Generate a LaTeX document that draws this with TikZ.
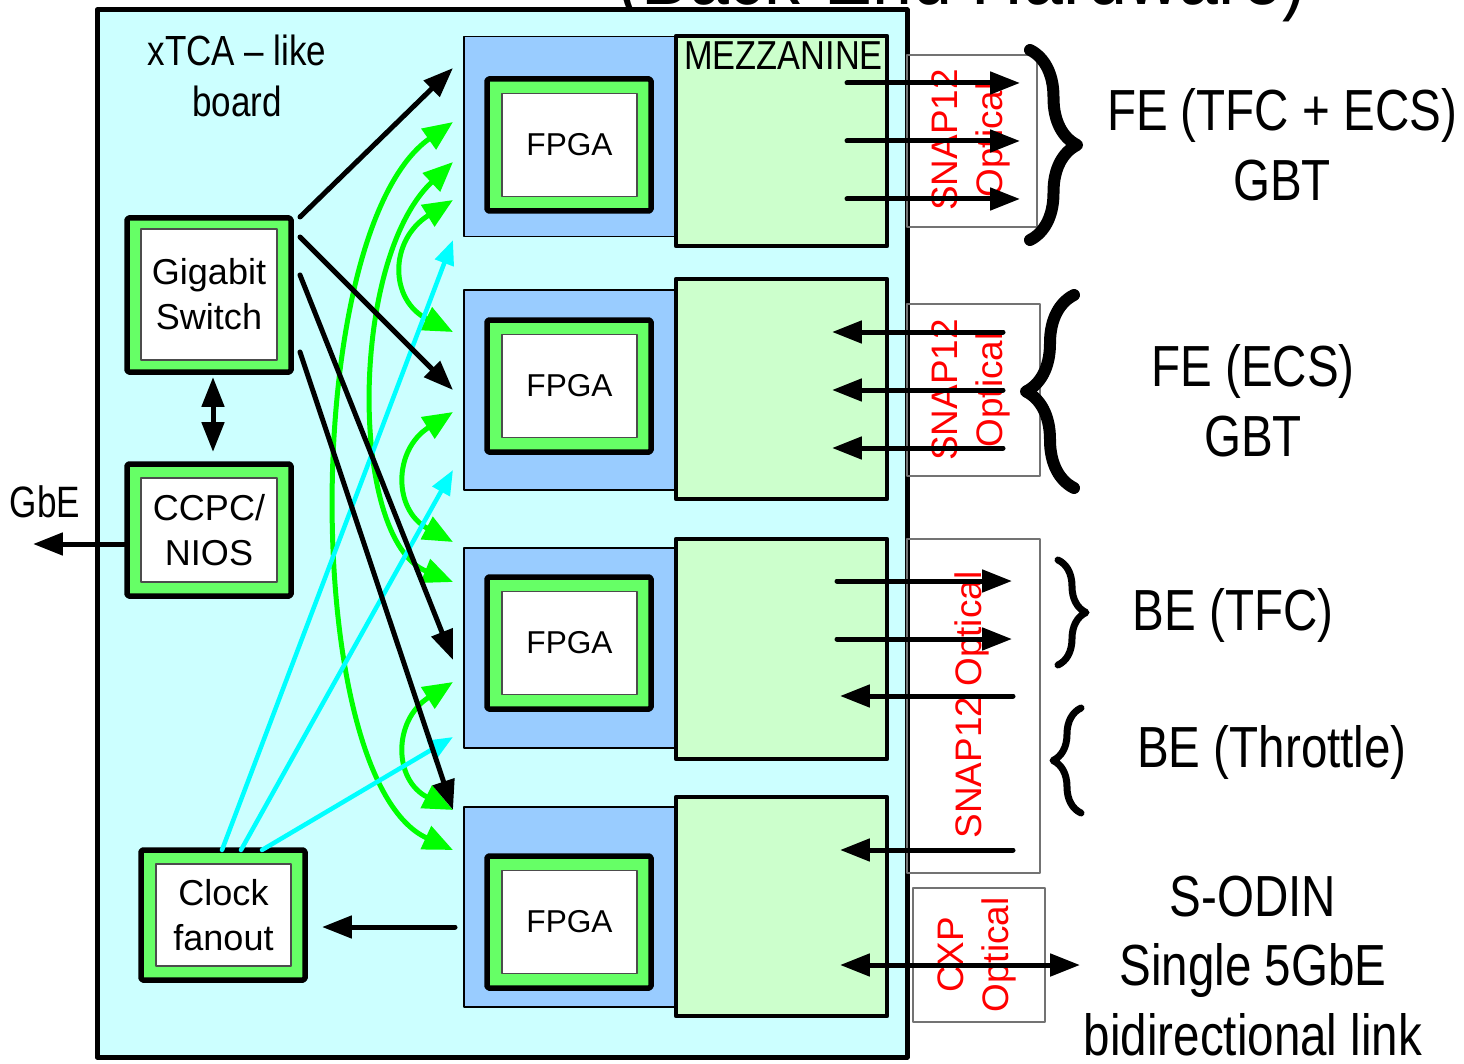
\documentclass[tikz,border=0pt]{standalone}
\usepackage{fontspec}
\setmainfont{Liberation Sans}
\usetikzlibrary{arrows.meta,decorations.pathreplacing}
\definecolor{boardcyan}{HTML}{CCFFFF}
\definecolor{cardblue}{HTML}{99CCFF}
\definecolor{mezzgreen}{HTML}{CCFFCC}
\definecolor{chipgreen}{HTML}{66FF66}
\definecolor{linkgreen}{HTML}{00FF00}
\definecolor{clkcyan}{HTML}{00FFFF}
\def\pxu{0.02cm}
\begin{document}
\begin{tikzpicture}[x=0.02cm, y=-0.02cm, line cap=round, line join=round,
    sz/.style 2 args={minimum width=#1*\pxu, minimum height=#2*\pxu, inner sep=0pt},
    board/.style={draw, fill=boardcyan, line width=5*\pxu},
    card/.style={draw, fill=cardblue, line width=1.5*\pxu},
    mezz/.style={draw, fill=mezzgreen, line width=4.5*\pxu},
    chip/.style={draw, fill=chipgreen, line width=5.5*\pxu, rounded corners=1pt},
    chipin/.style={draw=black!70, fill=white, line width=1.2*\pxu, align=center, font=\fontsize{20.5}{25.5}\selectfont},
    optbox/.style={draw=black!55, line width=1.2*\pxu},
    redlbl/.style={text=red, rotate=90, align=center, font=\fontsize{21}{26}\selectfont},
    rlbl/.style={xscale=0.82, align=center, font=\fontsize{33}{39.7}\selectfont},
    sig/.style={line width=5*\pxu, -{Triangle[length=17pt,width=12.5pt]}},
    sigboth/.style={line width=5*\pxu, {Triangle[length=17pt,width=12.5pt]}-{Triangle[length=17pt,width=12.5pt]}},
    lnk/.style={color=linkgreen, line width=5*\pxu, {Triangle[length=17pt,width=14pt]}-{Triangle[length=17pt,width=14pt]}},
    clkln/.style={color=clkcyan, line width=4.5*\pxu, -{Triangle[length=14pt,width=11pt]}},
    brc/.style={decorate, decoration={brace, amplitude=#1*\pxu}}]
\useasboundingbox (0,0) rectangle (1464,1064);

% slide title, cut at the top
\node[anchor=base, xscale=0.85, font=\fontsize{48}{50}\selectfont] (ttl) at (962,5) {(Back-End Hardware)};

% board
\node[board, sz={810}{1047}] (brd) at (502,533.5) {};
\node[xscale=0.83, align=center, font=\fontsize{24}{29.5}\selectfont] (brdlbl) at (237,76) {xTCA – like\\board};

% carriers and mezzanines
\foreach \i/\yy in {1/136.5, 2/390, 3/648, 4/907}
  \node[card, sz={212}{200}] (car\i) at (570,\yy) {};
\node[mezz, sz={211}{210}] (mz1) at (781.5,141) {};
\node[mezz, sz={211}{220}] (mz2) at (781.5,389) {};
\node[mezz, sz={211}{220}] (mz3) at (781.5,649) {};
\node[mezz, sz={211}{219}] (mz4) at (781.5,906.5) {};
\node[anchor=west, xscale=0.85, font=\fontsize{23}{26}\selectfont] (mzlbl) at (679,56) {MEZZANINE};

% FPGAs
\foreach \i/\yy in {1/145, 2/386, 3/643, 4/922} {
  \node[chip, sz={164}{132}] (fp\i) at (569,\yy) {};
  \node[chipin, sz={135}{103}, font=\fontsize{18}{20}\selectfont] (fpt\i) at (569.5,\yy) {FPGA};
}

% switch, controller, clock
\node[chip, sz={164}{154}] (gsw) at (209,295) {};
\node[chipin, sz={136}{131}] (gswt) at (209,294.5) {Gigabit\\Switch};
\node[chip, sz={164}{132}] (ccpc) at (209,530) {};
\node[chipin, sz={136}{104}] (ccpct) at (209,530) {CCPC/\\NIOS};
\node[chip, sz={164}{130}] (clk) at (223,915) {};
\node[chipin, sz={135}{102}] (clkt) at (223.5,915) {Clock\\fanout};

% optical connectors
\node[optbox, sz={130}{172}] (op1) at (972,141) {};
\node[optbox, sz={133}{172}] (op2) at (973.5,390) {};
\node[optbox, sz={133}{334}] (op3) at (973.5,706) {};
\node[optbox, sz={132}{134}] (op4) at (979,955) {};
\node[redlbl] (op1l) at (971,140) {SNAP12\\Optical};
\node[redlbl] (op2l) at (971,390) {SNAP12\\Optical};
\node[redlbl] (op3l) at (972,705) {SNAP12 Optical};
\node[redlbl] (op4l) at (977,955) {CXP\\Optical};

% green links between FPGAs
\coordinate (ga1) at (453,122); \coordinate (gb1) at (453,850);
\coordinate (ga2) at (453,162); \coordinate (gb2) at (453,582);
\coordinate (ga3) at (453,200); \coordinate (gb3) at (453,332);
\coordinate (ga4) at (453,412); \coordinate (gb4) at (453,542);
\coordinate (ga5) at (453,682); \coordinate (gb5) at (453,810);
\draw[lnk] (ga1) .. controls (300,230) and (300,780) .. (gb1);
\draw[lnk] (ga2) .. controls (349,260) and (349,540) .. (gb2);
\draw[lnk] (ga3) .. controls (389,240) and (389,300) .. (gb3);
\draw[lnk] (ga4) .. controls (393,450) and (393,510) .. (gb4);
\draw[lnk] (ga5) .. controls (393,720) and (393,780) .. (gb5);

% clock lines
\coordinate (ck1) at (222,850); \coordinate (ct1) at (453,240);
\coordinate (ck2) at (241,850); \coordinate (ct2) at (453,470);
\coordinate (ck3) at (262,850); \coordinate (ct3) at (453,737);
\foreach \k in {1,2,3}
  \draw[clkln] (ck\k) -- (ct\k);

% switch to FPGAs
\coordinate (sw1) at (300,217); \coordinate (tk1) at (453,68);
\coordinate (sw2) at (300,237); \coordinate (tk2) at (453,390);
\coordinate (sw3) at (300,275); \coordinate (tk3) at (453,660);
\coordinate (sw4) at (300,352); \coordinate (tk4) at (453,810);
\foreach \k in {1,...,4}
  \draw[sig] (sw\k) -- (tk\k);

% switch <-> controller, GbE, clock return
\coordinate (swd) at (213,377); \coordinate (ccu) at (213,452);
\draw[sigboth] (swd) -- (ccu);
\coordinate (gbe) at (33,544);
\draw[sig] (ccpc.west |- gbe) -- (gbe);
\node[xscale=0.8, font=\fontsize{25}{28}\selectfont] (gbelbl) at (45,502) {GbE};
\coordinate (cret) at (455,927); \coordinate (cin) at (322,927);
\draw[sig] (cret) -- (cin);

% mezzanine links
\foreach \k/\yy in {1/83, 2/141, 3/199} {
  \coordinate (ma\k) at (847,\yy); \coordinate (mb\k) at (1020,\yy);
  \draw[sig] (ma\k) -- (mb\k);
}
\foreach \k/\yy in {1/332, 2/390, 3/448} {
  \coordinate (na\k) at (1003,\yy); \coordinate (nb\k) at (832,\yy);
  \draw[sig] (na\k) -- (nb\k);
}
\foreach \k/\yy in {1/581, 2/639} {
  \coordinate (pa\k) at (837,\yy); \coordinate (pb\k) at (1012,\yy);
  \draw[sig] (pa\k) -- (pb\k);
}
\coordinate (thr) at (1013,696); \coordinate (thrin) at (840,696);
\draw[sig] (thr) -- (thrin);
\coordinate (q4) at (1013,850); \coordinate (q4in) at (840,850);
\draw[sig] (q4) -- (q4in);
\coordinate (odl) at (840,965); \coordinate (odr) at (1080,965);
\draw[sigboth] (odl) -- (odr);

% braces
\draw[brc=47, line width=12*\pxu] (1030,50) -- (1030,240);
\draw[brc=48, line width=12*\pxu] (1074,488) -- (1074,295);
\draw[brc=28, line width=7*\pxu] (1058,560) -- (1058,665);
\draw[brc=28, line width=7*\pxu] (1081,813) -- (1081,708);

% link names
\node[rlbl] (fe1) at (1282,145) {FE (TFC + ECS)\\GBT};
\node[rlbl] (fe2) at (1253,401) {FE (ECS)\\GBT};
\node[rlbl] (be1) at (1233,615) {BE (TFC)};
\node[rlbl] (be2) at (1272,752) {BE (Throttle)};
\node[rlbl] (sod) at (1253,966) {S-ODIN\\Single 5GbE\\bidirectional link};
\end{tikzpicture}
\end{document}
